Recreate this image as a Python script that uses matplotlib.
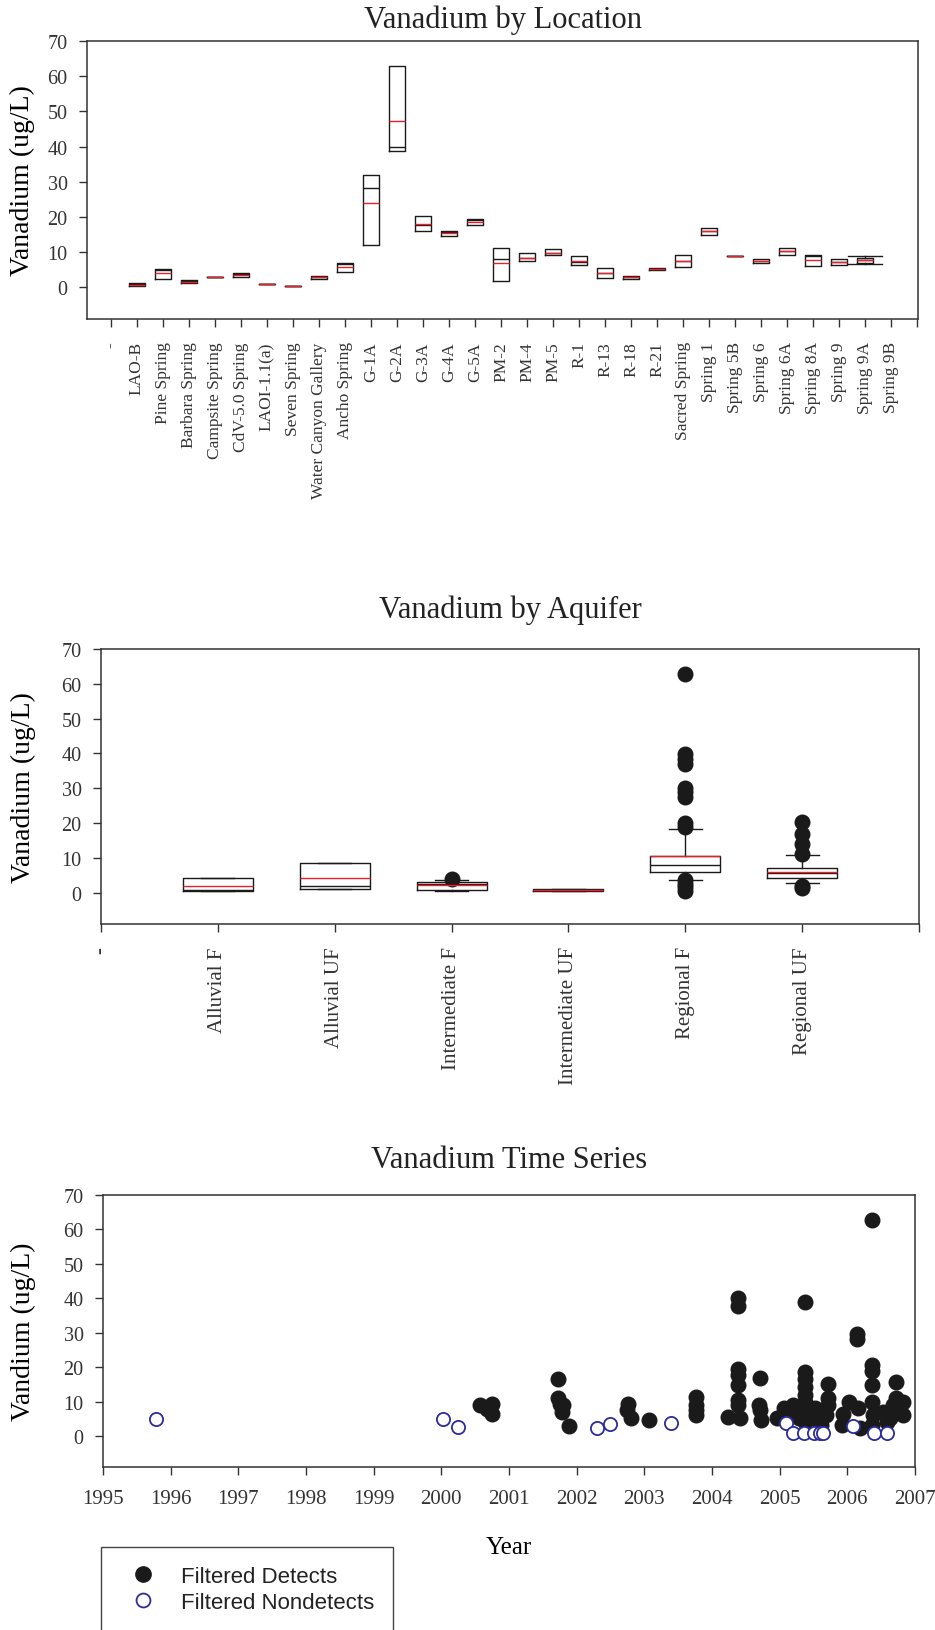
import numpy as np
import matplotlib
matplotlib.use('Agg')
import matplotlib.pyplot as plt

plt.rcParams['font.family'] = ['Liberation Serif', 'DejaVu Serif']
plt.rcParams['text.color'] = '#222222'
plt.rcParams['axes.edgecolor'] = '#333333'
plt.rcParams['xtick.color'] = '#333333'
plt.rcParams['ytick.color'] = '#333333'

# ---- data: Vanadium by Location ----
loc_labels = ['-', 'LAO-B', 'Pine Spring', 'Barbara Spring', 'Campsite Spring',
              'CdV-5.0 Spring', 'LAOI-1.1(a)', 'Seven Spring', 'Water Canyon Gallery',
              'Ancho Spring', 'G-1A', 'G-2A', 'G-3A', 'G-4A', 'G-5A', 'PM-2', 'PM-4',
              'PM-5', 'R-1', 'R-13', 'R-18', 'R-21', 'Sacred Spring', 'Spring 1',
              'Spring 5B', 'Spring 6', 'Spring 6A', 'Spring 8A', 'Spring 9',
              'Spring 9A', 'Spring 9B']
loc_with_data = loc_labels[1:30]
loc_q1 = [0.3, 2.4, 1.1, 3.05, 2.9, 0.95, 0.45, 2.3, 4.3, 12.1, 38.8, 15.9, 14.7, 17.7,
          1.9, 7.4, 9.1, 6.3, 2.7, 2.3, 4.9, 5.8, 15.0, 9.0, 7.0, 9.1, 6.2, 6.3, 7.0]
loc_med = [1.0, 4.9, 1.9, 3.05, 3.9, 0.95, 0.45, 3.0, 6.6, 28.1, 40.0, 17.6, 15.8, 19.0,
           8.1, 8.4, 9.8, 7.1, 4.1, 2.8, 5.1, 7.4, 16.1, 9.0, 7.4, 10.3, 8.9, 7.1, 7.9]
loc_q3 = [1.1, 5.1, 2.0, 3.05, 4.0, 0.95, 0.45, 3.1, 6.8, 31.9, 63.0, 20.3, 16.1, 19.3,
          11.2, 9.7, 10.8, 8.9, 5.4, 3.1, 5.4, 9.1, 16.9, 9.0, 8.0, 11.1, 9.1, 8.0, 8.2]
loc_mean = [0.7, 4.1, 1.6, 3.05, 3.4, 0.95, 0.45, 2.8, 5.8, 23.9, 47.3, 18.0, 15.4, 18.7,
            7.0, 8.4, 9.8, 7.4, 4.1, 2.8, 5.1, 7.4, 16.1, 9.0, 7.4, 10.3, 7.8, 7.1, 7.9]
# only Spring 9A has whiskers
whisk_name = 'Spring 9A'
whisk_lo = 6.7
whisk_hi = 9.0

# ---- data: Vanadium by Aquifer ----
aq_labels = ['-', 'Alluvial F', 'Alluvial UF', 'Intermediate F', 'Intermediate UF',
             'Regional F', 'Regional UF', '']
aq_names = aq_labels[1:7]
aq_q1 = [0.4, 1.0, 0.7, 0.6, 5.9, 4.1]
aq_med = [0.9, 1.9, 2.5, 0.8, 7.9, 5.6]
aq_q3 = [4.1, 8.4, 3.0, 1.1, 10.5, 7.0]
aq_mean = [2.0, 4.1, 2.2, 0.9, 10.4, 6.0]
aq_whislo = [0.4, 1.0, 0.6, 0.6, 3.6, 2.8]
aq_whishi = [4.1, 8.4, 3.6, 1.1, 18.4, 10.8]
aq_fliers = [[], [], [3.9], [],
             [62.7, 39.9, 38.4, 37.0, 30.0, 28.8, 27.6, 20.0, 18.8, 3.5, 2.5, 1.5, 0.6],
             [20.3, 16.9, 14.0, 11.1, 2.0, 1.4]]

# ---- data: Vanadium Time Series ----
det_year = [2000.57, 2000.75, 2000.75, 2000.68,
            2001.73, 2001.73, 2001.75, 2001.80, 2001.78, 2001.88,
            2002.76, 2002.74, 2002.81, 2003.07,
            2003.76, 2003.76, 2003.76, 2003.76,
            2004.24, 2004.38, 2004.38, 2004.38, 2004.38, 2004.38, 2004.38, 2004.38, 2004.42,
            2004.71, 2004.69, 2004.71, 2004.73, 2004.96, 2005.06,
            2005.38, 2005.38, 2005.38, 2005.38, 2005.38, 2005.38, 2005.38, 2005.38, 2005.38,
            2005.19, 2005.14, 2005.28, 2005.52, 2005.50, 2005.61,
            2005.71, 2005.71, 2005.71, 2005.69,
            2005.92, 2005.94, 2006.03, 2006.14, 2006.14, 2006.16, 2006.18,
            2006.37, 2006.37, 2006.37, 2006.37, 2006.37, 2006.38, 2006.36,
            2006.53, 2006.58, 2006.72, 2006.72, 2006.82, 2006.82, 2006.68, 2006.63]
det_val = [8.9, 9.4, 6.5, 7.9,
           16.6, 10.9, 9.4, 8.9, 7.0, 3.0,
           9.4, 7.5, 5.1, 4.6,
           11.3, 8.9, 7.5, 6.1,
           5.6, 40.2, 37.8, 19.5, 17.6, 14.7, 10.4, 8.9, 5.1,
           16.8, 8.9, 7.5, 4.6, 5.1, 8.0,
           38.8, 18.6, 16.6, 14.2, 11.8, 9.9, 8.0, 6.1, 4.1,
           8.9, 6.1, 5.1, 8.0, 5.1, 3.2,
           15.2, 10.9, 8.9, 6.1,
           3.2, 6.5, 9.9, 29.6, 28.2, 8.0, 2.2,
           62.8, 20.5, 19.0, 14.7, 9.9, 6.1, 3.2,
           7.0, 4.1, 15.7, 10.9, 9.9, 6.1, 8.9, 5.1]
nd_year = [1995.79, 2000.02, 2000.24, 2002.30, 2002.49, 2003.39, 2005.09, 2005.19,
           2005.36, 2005.50, 2005.59, 2005.64, 2006.09, 2006.40, 2006.59]
nd_val = [5.0, 4.8, 2.6, 2.4, 3.4, 3.7, 3.9, 0.8, 0.8, 0.8, 0.8, 0.8, 3.0, 0.8, 0.8]
year_ticks = list(range(1995, 2008))

W, H = 935, 1631
fig = plt.figure(figsize=(W / 100, H / 100), dpi=100)


def box_axes(l, t, r, b):
    return fig.add_axes([l / W, 1 - b / H, (r - l) / W, (b - t) / H])


def style_y(ax):
    ax.set_ylim(-9, 70)
    ax.set_yticks(range(0, 71, 10))
    ax.tick_params(axis='y', direction='out', length=6, width=1.0, pad=8, labelsize=14.5)
    for s in ax.spines.values():
        s.set_linewidth(1.1)


boxprops = dict(color='#1a1a1a', linewidth=1.0)
medprops = dict(color='#1a1a1a', linewidth=1.0)
meanprops = dict(color='#e8202a', linewidth=1.0, linestyle='-')
whiskprops = dict(color='#1a1a1a', linewidth=1.0)

# ---------- top panel ----------
ax1 = box_axes(87, 42, 918, 320)
stats_plain, pos_plain, stats_wh, pos_wh = [], [], [], []
for i, name in enumerate(loc_with_data):
    st = dict(med=loc_med[i], q1=loc_q1[i], q3=loc_q3[i], mean=loc_mean[i],
              whislo=loc_q1[i], whishi=loc_q3[i], fliers=[])
    if name == whisk_name:
        st['whislo'] = whisk_lo
        st['whishi'] = whisk_hi
        stats_wh.append(st)
        pos_wh.append(loc_labels.index(name))
    else:
        stats_plain.append(st)
        pos_plain.append(loc_labels.index(name))
ax1.bxp(stats_plain, positions=pos_plain, widths=0.62, showmeans=True, meanline=True,
        showcaps=False, boxprops=boxprops, medianprops=medprops, meanprops=meanprops,
        whiskerprops=whiskprops, manage_ticks=False)
ax1.bxp(stats_wh, positions=pos_wh, widths=0.62, capwidths=1.3, showmeans=True,
        meanline=True, boxprops=boxprops, medianprops=medprops, meanprops=meanprops,
        whiskerprops=whiskprops, capprops=whiskprops, manage_ticks=False)
ax1.set_xlim(-0.92, 31.03)
ax1.set_xticks(range(32))
ax1.set_xticklabels(loc_labels + [''], rotation=90)
ax1.tick_params(axis='x', direction='out', length=6, width=1.0, pad=10, labelsize=12.5)
style_y(ax1)
ax1.set_ylabel('Vanadium (ug/L)', fontsize=20)
ax1.yaxis.set_label_coords(-0.062, 0.5)
ax1.set_title('Vanadium by Location', fontsize=22, pad=10)

# ---------- middle panel ----------
ax2 = box_axes(101, 650, 919, 925)
aq_stats = []
for i in range(len(aq_names)):
    aq_stats.append(dict(med=aq_med[i], q1=aq_q1[i], q3=aq_q3[i], mean=aq_mean[i],
                         whislo=aq_whislo[i], whishi=aq_whishi[i], fliers=aq_fliers[i]))
ax2.bxp(aq_stats, positions=range(1, 7), widths=0.6, capwidths=0.28, showmeans=True,
        meanline=True, boxprops=boxprops, medianprops=medprops, meanprops=meanprops,
        whiskerprops=whiskprops, capprops=whiskprops,
        flierprops=dict(marker='o', markersize=10.5, markerfacecolor='#1a1a1a',
                        markeredgecolor='#1a1a1a', linestyle='none'),
        manage_ticks=False)
ax2.set_xlim(0, 7)
ax2.set_xticks(range(8))
ax2.set_xticklabels(aq_labels, rotation=90)
ax2.tick_params(axis='x', direction='out', length=6, width=1.0, pad=10, labelsize=15)
style_y(ax2)
ax2.set_ylabel('Vanadium (ug/L)', fontsize=20)
ax2.yaxis.set_label_coords(-0.08, 0.5)
ax2.set_title('Vanadium by Aquifer', fontsize=22, pad=23)

# ---------- bottom panel ----------
ax3 = box_axes(103, 1196, 915, 1468)
det = ax3.scatter(det_year, det_val, s=10.5 ** 2, color='#1a1a1a', zorder=3,
                  label='Filtered Detects')
nd = ax3.scatter(nd_year, nd_val, s=9.5 ** 2, facecolor='white', edgecolor='#2b2b9c',
                 linewidth=1.3, zorder=4, label='Filtered Nondetects')
ax3.set_xlim(1995, 2007)
ax3.set_xticks(year_ticks)
ax3.tick_params(axis='x', direction='out', length=6, width=1.0, pad=10, labelsize=15)
style_y(ax3)
ax3.set_ylabel('Vandium (ug/L)', fontsize=20)
ax3.yaxis.set_label_coords(-0.083, 0.5)
ax3.set_xlabel('Year', fontsize=18, labelpad=20)
ax3.set_title('Vanadium Time Series', fontsize=22, pad=20)

leg_det = plt.Line2D([], [], marker='o', linestyle='none', markersize=11,
                     color='#1a1a1a')
leg_nd = plt.Line2D([], [], marker='o', linestyle='none', markersize=10,
                    markerfacecolor='white', markeredgecolor='#2b2b9c',
                    markeredgewidth=1.3)
fig.legend([leg_det, leg_nd], ['Filtered Detects', 'Filtered Nondetects'],
           loc='upper left', bbox_to_anchor=(101 / W, 1 - 1548 / H), borderaxespad=0,
           prop={'family': 'Liberation Sans', 'size': 16}, frameon=True,
           fancybox=False, edgecolor='#444444', framealpha=1, borderpad=0.85,
           handlelength=2.1, handletextpad=0.66, labelspacing=0.22)

fig.savefig('out.png', dpi=100)
